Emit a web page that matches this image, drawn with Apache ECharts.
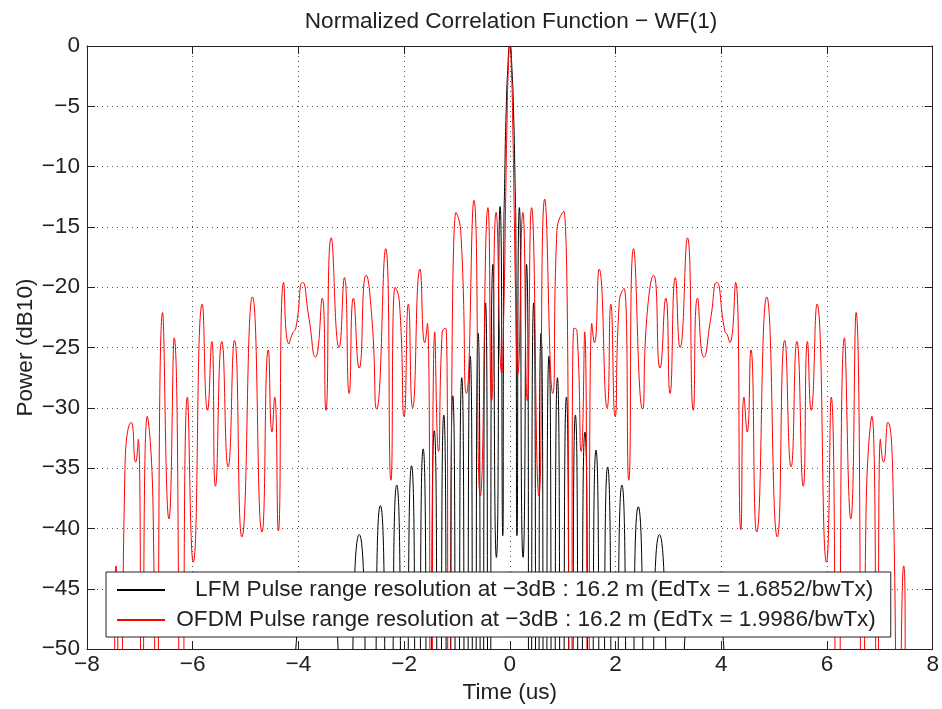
<!DOCTYPE html>
<html>
<head>
<meta charset="utf-8">
<title>Normalized Correlation Function</title>
<script src="https://cdn.jsdelivr.net/npm/echarts@6/dist/echarts.min.js"></script>
<style>
  html, body { margin: 0; padding: 0; background: #fff; }
  #chart { width: 942px; height: 709px; }
</style>
</head>
<body>
<div id="chart"></div>
<script>
// LFM 相关函数: [时间 us, 功率 dB] 峰值和零点 (零点低于 -50 会被裁掉)
const lfmPoints = [
  [-4.3, -70], [-4.05, -50], [-3.62, -45], [-3.25, -50], [-3.12, -70],
  [-2.85, -40.5], [-2.64, -70], [-2.45, -38.1], [-2.29, -70], [-2.14, -36.4], [-2.0, -70],
  [-1.86, -34.8], [-1.75, -70], [-1.64, -33.4], [-1.535, -70], [-1.43, -31.9], [-1.34, -70],
  [-1.25, -30.6], [-1.165, -70], [-1.08, -29.0], [-0.995, -70], [-0.91, -27.5], [-0.83, -70],
  [-0.75, -25.7], [-0.675, -70], [-0.6, -23.8], [-0.53, -70], [-0.46, -21.3], [-0.39, -70],
  [-0.32, -18.1], [-0.255, -42.4], [-0.185, -13.3], [-0.135, -40.6],
  [-0.115, -17], [-0.095, -10.5], [-0.07, -5.5], [-0.035, -1.5], [0, 0],
  [0.035, -1.5], [0.07, -5.5], [0.095, -10.5], [0.115, -17],
  [0.135, -40.6], [0.18, -13.4], [0.25, -42.4], [0.315, -18.1], [0.38, -70],
  [0.45, -21.3], [0.52, -70], [0.59, -23.8], [0.665, -70], [0.74, -25.7], [0.82, -70],
  [0.9, -27.5], [0.985, -70], [1.07, -29.1], [1.155, -70], [1.24, -30.6], [1.33, -70],
  [1.42, -32.0], [1.525, -70], [1.63, -33.5], [1.74, -70], [1.85, -34.9], [1.985, -70],
  [2.12, -36.4], [2.275, -70], [2.43, -38.2], [2.63, -70], [2.83, -40.5], [3.12, -70],
  [3.3, -50], [3.67, -45], [4.05, -50], [4.3, -70]
];

// OFDM 相关函数
const ofdmPoints = [
  [-7.7, -80], [-7.52, -65], [-7.45, -43.1], [-7.37, -65], [-7.28, -34.7], [-7.16, -31.2],
  [-7.08, -34.5], [-7.03, -32.6], [-6.96, -65], [-6.86, -30.7], [-6.75, -38.3], [-6.69, -65],
  [-6.57, -22.1], [-6.45, -39.2], [-6.35, -24.2], [-6.21, -65], [-6.10, -29.1], [-5.99, -42.8],
  [-5.82, -21.4], [-5.72, -30.2], [-5.64, -24.5], [-5.57, -36.5], [-5.45, -24.5], [-5.33, -34.9],
  [-5.21, -24.4], [-5.07, -40.7], [-4.87, -20.8], [-4.69, -40.3], [-4.57, -25.2], [-4.50, -32.0],
  [-4.45, -29.1], [-4.38, -40.2], [-4.28, -19.6], [-4.18, -24.7], [-4.11, -23.8], [-4.05, -23.4],
  [-3.92, -19.6], [-3.80, -22.6], [-3.68, -25.8], [-3.55, -20.9], [-3.48, -30.2], [-3.38, -15.9],
  [-3.23, -25.0], [-3.13, -19.2], [-3.04, -28.8], [-2.96, -20.9], [-2.85, -26.7], [-2.72, -19.0],
  [-2.61, -22.6], [-2.52, -30.1], [-2.35, -16.8], [-2.25, -36.0], [-2.17, -20.0], [-2.09, -21.2],
  [-2.00, -30.7], [-1.92, -21.4], [-1.84, -30.0], [-1.70, -18.5], [-1.61, -24.6], [-1.56, -23.0],
  [-1.49, -65], [-1.42, -23.7], [-1.35, -33.6], [-1.28, -23.7], [-1.21, -23.4], [-1.15, -65],
  [-1.02, -13.8], [-0.93, -15.3], [-0.82, -28.8], [-0.68, -12.8], [-0.56, -37.3], [-0.415, -13.4],
  [-0.345, -29.4], [-0.26, -13.8], [-0.155, -27.1], [-0.11, -21], [-0.08, -13], [-0.057, -7],
  [-0.03, -2], [0, 0], [0.03, -2], [0.057, -7], [0.08, -13], [0.11, -21],
  [0.15, -27.2], [0.245, -13.8], [0.33, -29.4], [0.41, -13.4], [0.55, -37.3], [0.66, -12.7],
  [0.81, -28.8], [0.89, -15.3], [1.02, -13.7], [1.15, -65], [1.21, -23.4], [1.27, -23.6],
  [1.35, -33.6], [1.415, -23.7], [1.48, -65], [1.55, -23.0], [1.60, -24.6], [1.69, -18.5],
  [1.84, -30.0], [1.91, -21.4], [1.99, -30.7], [2.07, -21.2], [2.16, -20.1], [2.25, -36.0],
  [2.34, -16.8], [2.51, -30.1], [2.59, -22.6], [2.72, -19.0], [2.84, -26.7], [2.95, -20.9],
  [3.03, -28.8], [3.13, -19.2], [3.22, -25.0], [3.36, -15.9], [3.47, -30.2], [3.55, -20.9],
  [3.67, -25.8], [3.80, -22.6], [3.91, -19.6], [4.07, -23.7], [4.11, -23.9], [4.16, -24.6],
  [4.27, -19.6], [4.37, -40.1], [4.43, -29.1], [4.49, -32.0], [4.56, -25.2], [4.67, -40.3],
  [4.86, -20.8], [5.06, -40.7], [5.20, -24.4], [5.32, -34.9], [5.43, -24.5], [5.55, -36.5],
  [5.63, -24.5], [5.70, -30.2], [5.81, -21.4], [5.99, -42.8], [6.08, -29.1], [6.20, -65],
  [6.33, -24.2], [6.45, -39.2], [6.55, -22.1], [6.68, -65], [6.74, -38.3], [6.85, -30.7],
  [6.95, -65], [7.01, -32.6], [7.07, -34.5], [7.15, -31.2], [7.25, -36.6], [7.34, -65],
  [7.45, -43.1], [7.52, -65], [7.7, -80]
];

// 图例文字
const seriesNames = [
  '\u00a0\u00a0\u00a0\u00a0LFM Pulse range resolution at \u22123dB : 16.2 m (EdTx = 1.6852/bwTx)',
  '\u00a0OFDM Pulse range resolution at \u22123dB : 16.2 m (EdTx = 1.9986/bwTx)'
];
const seriesColors = ['#000000', '#ff0000'];

const xRange = [-8, 8];
const yRange = [-50, 0];

const FONT = '"Liberation Sans", Arial, Helvetica, sans-serif';
const FS = 22.6;
const minus = (v) => String(v).replace('-', '\u2212');

const gridLine = { show: true, lineStyle: { color: '#555', type: [1, 4], width: 1 } };
const boxLine = { show: true, onZero: false, lineStyle: { color: '#222', width: 1 } };
const tickIn = { show: true, inside: true, length: 8, lineStyle: { color: '#222' } };

const myChart = echarts.init(document.getElementById('chart'), null, { renderer: 'canvas' });

const option = {
  backgroundColor: '#ffffff',
  animation: false,
  title: {
    text: 'Normalized Correlation Function \u2212 WF(1)',
    left: 506,
    textAlign: 'center',
    top: 5,
    textStyle: { fontFamily: FONT, fontSize: FS, fontWeight: 'normal', color: '#222' }
  },
  grid: { left: 87, right: 7, top: 46, bottom: 57, containLabel: false },
  legend: {
    orient: 'vertical',
    left: 106,
    top: 572,
    itemWidth: 48,
    itemHeight: 2,
    itemGap: 4,
    padding: [5, 15, 4, 10],
    backgroundColor: '#ffffff',
    borderColor: '#222',
    borderWidth: 1,
    borderRadius: 0,
    textStyle: { fontFamily: FONT, fontSize: FS, color: '#222', lineHeight: 26 },
    data: seriesNames
  },
  xAxis: [
    {
      type: 'value', min: xRange[0], max: xRange[1], interval: 2,
      name: 'Time (us)', nameLocation: 'middle', nameGap: 29,
      nameTextStyle: { fontFamily: FONT, fontSize: FS, color: '#222' },
      axisLine: boxLine, axisTick: tickIn, splitLine: gridLine,
      axisLabel: { fontFamily: FONT, fontSize: FS, color: '#222', margin: 4, formatter: minus }
    },
    {
      type: 'value', position: 'top', min: xRange[0], max: xRange[1], interval: 2,
      axisLine: boxLine, axisTick: tickIn, splitLine: { show: false }, axisLabel: { show: false }
    }
  ],
  yAxis: [
    {
      type: 'value', min: yRange[0], max: yRange[1], interval: 5,
      name: 'Power (dB10)', nameLocation: 'middle', nameGap: 50, nameMoveOverlap: false,
      nameTextStyle: { fontFamily: FONT, fontSize: FS, color: '#222' },
      axisLine: boxLine, axisTick: tickIn, splitLine: gridLine,
      axisLabel: { fontFamily: FONT, fontSize: FS, color: '#222', margin: 7, formatter: minus }
    },
    {
      type: 'value', position: 'right', min: yRange[0], max: yRange[1], interval: 5,
      axisLine: boxLine, axisTick: tickIn, splitLine: { show: false }, axisLabel: { show: false }
    }
  ],
  series: [
    {
      name: seriesNames[0], type: 'line', data: lfmPoints,
      symbol: 'none', smooth: 0.8, clip: true,
      lineStyle: { color: seriesColors[0], width: 1 }, itemStyle: { color: seriesColors[0] }
    },
    {
      name: seriesNames[1], type: 'line', data: ofdmPoints,
      symbol: 'none', smooth: 0.6, clip: true,
      lineStyle: { color: seriesColors[1], width: 1 }, itemStyle: { color: seriesColors[1] }
    }
  ]
};

option && myChart.setOption(option);
</script>
</body>
</html>
